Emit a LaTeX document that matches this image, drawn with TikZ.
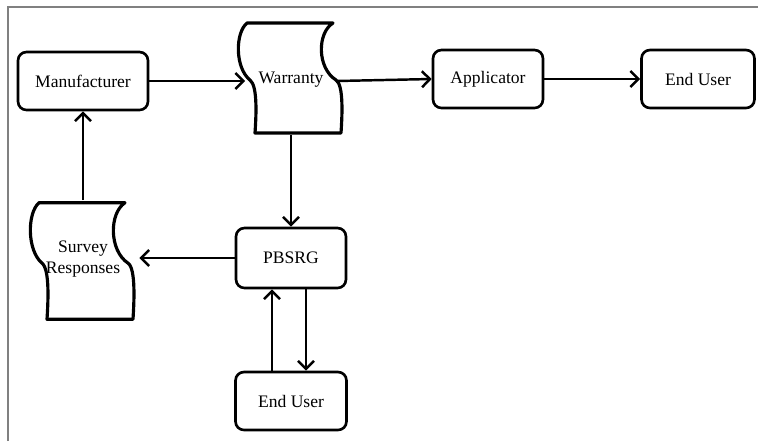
\documentclass[tikz,border=0pt]{standalone}
\usepackage{fontspec}
\setmainfont{Liberation Serif}
\usetikzlibrary{arrows.meta}

\begin{document}
\begin{tikzpicture}[x=0.02cm, y=-0.02cm,
  boite/.style={draw, line width=1.5pt, rounded corners=0.17cm, minimum height=1.16cm},
  fleche/.style={line width=1.4pt, -{Straight Barb[length=1.6mm, width=3.2mm, line width=1.4pt]}},
  rouleau/.style={line width=1.8pt, line join=round}]

  % Cadre
  \useasboundingbox (0,0) rectangle (758,441);
  \draw[gray, line width=0.6pt] (8,441) -- (8,7) -- (758,7);

  % Boites
  \node[boite, minimum width=2.6cm] (manuf) at (83,81) {Manufacturer};
  \node[boite, minimum width=2.2cm] (appl) at (488,79) {Applicator};
  \node[boite, minimum width=2.26cm] (user) at (698,79) {End User};
  \node[boite, minimum width=2.2cm, minimum height=1.2cm] (pbsrg) at (291,258) {PBSRG};
  \node[boite, minimum width=2.22cm] (user2) at (291,401) {End User};

  % Documents
  \node[minimum width=1.82cm, minimum height=2.2cm] (warranty) at (291,80) {Warranty};
  \node[minimum width=2.24cm, minimum height=2.34cm, align=center] (survey) at (83,259) {Survey\\Responses};

  \draw[rouleau, shift={(warranty.center)}, shift={(0,-2)}]
    (-44,-55) .. controls (-56,-45) and (-56,-10) .. (-41,2)
    .. controls (-33,8) and (-35,40) .. (-36,55) -- (50,55)
    .. controls (51,40) and (53,7) .. (45,2)
    .. controls (26,-10) and (26,-45) .. (42,-55) -- cycle;
  \draw[rouleau, shift={(survey.center)}, shift={(0,2)}, yscale=1.06]
    (-44,-55) .. controls (-56,-45) and (-56,-10) .. (-41,2)
    .. controls (-33,8) and (-35,40) .. (-36,55) -- (50,55)
    .. controls (51,40) and (53,7) .. (45,2)
    .. controls (26,-10) and (26,-45) .. (42,-55) -- cycle;

  % Fleches
  \draw[fleche] (manuf.east) -- (manuf.east -| warranty.west);
  \draw[fleche] (manuf.east -| warranty.east) -- (appl.west);
  \draw[fleche] (appl.east) -- (user.west);
  \draw[fleche] (warranty.south) -- (pbsrg.north);
  \draw[fleche] (pbsrg.west) -- (pbsrg.west -| survey.east);
  \draw[fleche] (survey.north) -- (survey.north |- manuf.south);
  \draw[fleche] ([xshift=-0.38cm]user2.north) -- ([xshift=-0.38cm]pbsrg.south);
  \draw[fleche] ([xshift=0.3cm]pbsrg.south) -- ([xshift=0.3cm]user2.north);
\end{tikzpicture}
\end{document}
